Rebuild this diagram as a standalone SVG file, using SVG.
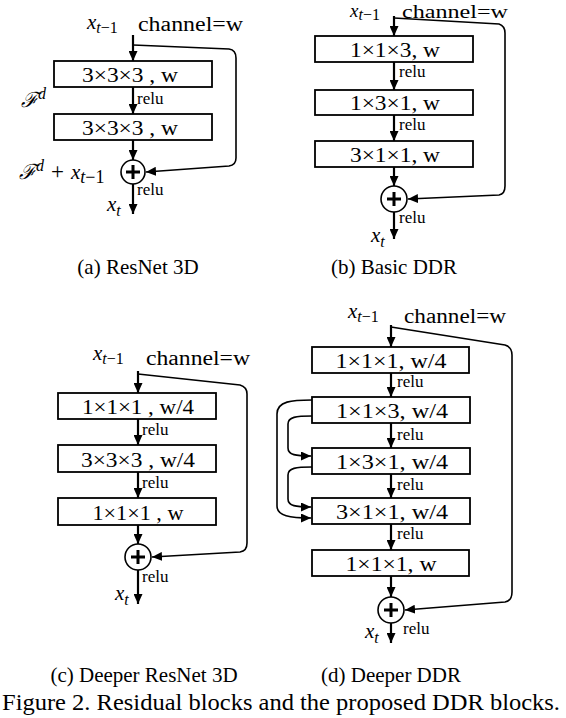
<svg xmlns="http://www.w3.org/2000/svg" width="566" height="718" viewBox="0 0 566 718">
<defs>
<marker id="ah" markerUnits="userSpaceOnUse" markerWidth="11" markerHeight="9" refX="10" refY="4.5" orient="auto">
<path d="M0,0 L10,4.5 L0,9 z" fill="#000"/>
</marker>
</defs>
<style>
.box{fill:#fff;stroke:#000;stroke-width:1.8}
.bt{font-size:20px;text-anchor:middle}
.relu{font-size:17px}
.ch{font-size:20px}
.cap{font-size:21px;text-anchor:middle}
.m{font-style:italic;font-size:21px}
.ms{font-size:16px}
.up{font-style:normal}
.v{fill:none;stroke:#000;stroke-width:2.2}
.sk{fill:none;stroke:#000;stroke-width:1.6}
.circ{fill:#fff;stroke:#000;stroke-width:1.6}
.plus{stroke:#000;stroke-width:3}
</style>

<g font-family="'Liberation Serif', 'Times New Roman', Times, serif">
<!-- ===== Panel (a) ===== -->
<g id="a-labels">
<text class="m" x="87" y="29">x<tspan class="ms" dy="4">t<tspan class="up">−1</tspan></tspan></text>
<text class="ch" x="138" y="31" textLength="105" lengthAdjust="spacingAndGlyphs">channel=w</text>
<text class="m" x="21" y="107"><tspan font-family="'DejaVu Serif', serif">ℱ</tspan><tspan class="ms" dy="-8">d</tspan></text>
<text class="m" x="19" y="179"><tspan font-family="'DejaVu Serif', serif">ℱ</tspan><tspan class="ms" dy="-8">d</tspan><tspan class="up" dy="8" dx="7" style="font-size:23px">+</tspan><tspan dx="7">x</tspan><tspan class="ms" dy="4" style="font-size:18px">t<tspan class="up">−1</tspan></tspan></text>
<text class="m" x="107" y="211">x<tspan class="ms" dy="5">t</tspan></text>
<text class="relu" x="137" y="104">relu</text>
<text class="relu" x="137" y="195">relu</text>
<text class="cap" x="138" y="274">(a) ResNet 3D</text>
</g>
<g id="a-box1"><rect class="box" x="54" y="61" width="158" height="26"/><text class="bt" x="130" y="82" textLength="96" lengthAdjust="spacingAndGlyphs">3×3×3 , w</text></g>
<g id="a-box2"><rect class="box" x="54" y="114" width="158" height="26"/><text class="bt" x="130" y="135" textLength="96" lengthAdjust="spacingAndGlyphs">3×3×3 , w</text></g>
<g id="a-sum"><circle class="circ" cx="133" cy="172" r="12"/><path class="plus" d="M126,172 H140 M133,165 V179"/></g>

<!-- ===== Panel (b) ===== -->
<g id="b-labels">
<text class="m" x="350" y="17" style="font-size:19px">x<tspan class="ms" dy="3">t<tspan class="up">−1</tspan></tspan></text>
<text class="ch" x="402" y="18" style="font-size:19px" textLength="106" lengthAdjust="spacingAndGlyphs">channel=w</text>
<text class="m" x="371" y="242">x<tspan class="ms" dy="5">t</tspan></text>
<text class="relu" x="399" y="77">relu</text>
<text class="relu" x="399" y="130">relu</text>
<text class="relu" x="399" y="223">relu</text>
<text class="cap" x="394" y="274">(b) Basic DDR</text>
</g>
<g id="b-box1"><rect class="box" x="315" y="36" width="158" height="26"/><text class="bt" x="395" y="57" textLength="90" lengthAdjust="spacingAndGlyphs">1×1×3, w</text></g>
<g id="b-box2"><rect class="box" x="315" y="90" width="158" height="25"/><text class="bt" x="395" y="110" textLength="90" lengthAdjust="spacingAndGlyphs">1×3×1, w</text></g>
<g id="b-box3"><rect class="box" x="315" y="141" width="158" height="26"/><text class="bt" x="395" y="162" textLength="90" lengthAdjust="spacingAndGlyphs">3×1×1, w</text></g>
<g id="b-sum"><circle class="circ" cx="394" cy="199" r="13"/><path class="plus" d="M387,199 H401 M394,192 V206"/></g>

<!-- ===== Panel (c) ===== -->
<g id="c-labels">
<text class="m" x="93" y="360">x<tspan class="ms" dy="4">t<tspan class="up">−1</tspan></tspan></text>
<text class="ch" x="146" y="365" textLength="104" lengthAdjust="spacingAndGlyphs">channel=w</text>
<text class="m" x="115" y="600">x<tspan class="ms" dy="5">t</tspan></text>
<text class="relu" x="142" y="435">relu</text>
<text class="relu" x="142" y="488">relu</text>
<text class="relu" x="142" y="582">relu</text>
<text class="cap" x="144" y="682">(c) Deeper ResNet 3D</text>
</g>
<g id="c-box1"><rect class="box" x="58" y="393" width="158" height="26"/><text class="bt" x="138" y="414" textLength="112" lengthAdjust="spacingAndGlyphs">1×1×1 , w/4</text></g>
<g id="c-box2"><rect class="box" x="58" y="445" width="158" height="27"/><text class="bt" x="138" y="467" textLength="114" lengthAdjust="spacingAndGlyphs">3×3×3 , w/4</text></g>
<g id="c-box3"><rect class="box" x="58" y="498" width="158" height="27"/><text class="bt" x="138" y="520" textLength="91" lengthAdjust="spacingAndGlyphs">1×1×1 , w</text></g>
<g id="c-sum"><circle class="circ" cx="138" cy="557" r="13"/><path class="plus" d="M131,557 H145 M138,550 V564"/></g>

<!-- ===== Panel (d) ===== -->
<g id="d-labels">
<text class="m" x="348" y="318">x<tspan class="ms" dy="4">t<tspan class="up">−1</tspan></tspan></text>
<text class="ch" x="404" y="323" textLength="102" lengthAdjust="spacingAndGlyphs">channel=w</text>
<text class="m" x="365" y="638">x<tspan class="ms" dy="5">t</tspan></text>
<text class="relu" x="397" y="387">relu</text>
<text class="relu" x="397" y="440">relu</text>
<text class="relu" x="397" y="490">relu</text>
<text class="relu" x="397" y="539">relu</text>
<text class="relu" x="403" y="634">relu</text>
<text class="cap" x="391" y="682">(d) Deeper DDR</text>
</g>
<g id="d-box1"><rect class="box" x="312" y="347" width="157" height="26"/><text class="bt" x="391" y="368" textLength="111" lengthAdjust="spacingAndGlyphs">1×1×1, w/4</text></g>
<g id="d-box2"><rect class="box" x="312" y="397" width="158" height="26"/><text class="bt" x="392" y="418" textLength="112" lengthAdjust="spacingAndGlyphs">1×1×3, w/4</text></g>
<g id="d-box3"><rect class="box" x="312" y="448" width="158" height="26"/><text class="bt" x="392" y="469" textLength="112" lengthAdjust="spacingAndGlyphs">1×3×1, w/4</text></g>
<g id="d-box4"><rect class="box" x="312" y="498" width="158" height="26"/><text class="bt" x="392" y="519" textLength="112" lengthAdjust="spacingAndGlyphs">3×1×1, w/4</text></g>
<g id="d-box5"><rect class="box" x="312" y="550" width="157" height="26"/><text class="bt" x="391" y="571" textLength="91" lengthAdjust="spacingAndGlyphs">1×1×1, w</text></g>
<g id="d-sum"><circle class="circ" cx="391" cy="610" r="13"/><path class="plus" d="M384,610 H398 M391,603 V617"/></g>

<g id="caption">
<text x="2" y="710" font-size="23" textLength="558" lengthAdjust="spacingAndGlyphs">Figure 2. Residual blocks and the proposed DDR blocks.</text>
</g>
</g>

<!-- ===== Connectors ===== -->
<g id="connectors">
<path class="v" marker-end="url(#ah)" d="M133,35 V61"/>
<path class="v" marker-end="url(#ah)" d="M133,87 V114"/>
<path class="v" marker-end="url(#ah)" d="M133,140 V160"/>
<path class="v" marker-end="url(#ah)" d="M133,184 V214"/>
<path class="sk" marker-end="url(#ah)" d="M133,45 L229,49 Q236,50 236,58 L236,158 Q236,165 229,166 L146,172"/>
<path class="v" marker-end="url(#ah)" d="M394,16 V36"/>
<path class="v" marker-end="url(#ah)" d="M394,62 V90"/>
<path class="v" marker-end="url(#ah)" d="M394,115 V141"/>
<path class="v" marker-end="url(#ah)" d="M394,167 V186"/>
<path class="v" marker-end="url(#ah)" d="M394,212 V239"/>
<path class="sk" marker-end="url(#ah)" d="M394,18 L499,24 Q505,26 505,33 L505,186 Q505,194 499,195 L408,199"/>
<path class="v" marker-end="url(#ah)" d="M138,371 V393"/>
<path class="v" marker-end="url(#ah)" d="M138,419 V445"/>
<path class="v" marker-end="url(#ah)" d="M138,472 V498"/>
<path class="v" marker-end="url(#ah)" d="M138,525 V544"/>
<path class="v" marker-end="url(#ah)" d="M138,570 V604"/>
<path class="sk" marker-end="url(#ah)" d="M138,374 L240,385 Q247,387 247,394 L247,543 Q247,551 240,552 L152,557"/>
<path class="v" marker-end="url(#ah)" d="M391,325 V347"/>
<path class="v" marker-end="url(#ah)" d="M391,373 V397"/>
<path class="v" marker-end="url(#ah)" d="M391,423 V448"/>
<path class="v" marker-end="url(#ah)" d="M391,474 V498"/>
<path class="v" marker-end="url(#ah)" d="M391,524 V550"/>
<path class="v" marker-end="url(#ah)" d="M391,576 V597"/>
<path class="v" marker-end="url(#ah)" d="M391,623 V643"/>
<path class="sk" marker-end="url(#ah)" d="M391,327 L505,345 Q512,347 512,355 L512,592 Q512,601 505,602 L405,610"/>
<path class="sk" marker-end="url(#ah)" d="M312,400 C292,400 277,401 277,414 L277,506 C277,516 290,518 311,518"/>
<path class="sk" marker-end="url(#ah)" d="M312,416 C296,416 288,417 288,424 L288,448 C288,455 296,456 311,456"/>
<path class="sk" marker-end="url(#ah)" d="M312,467 C296,467 288,468 288,475 L288,499 C288,506 296,507 311,507"/>
</g>
</svg>
